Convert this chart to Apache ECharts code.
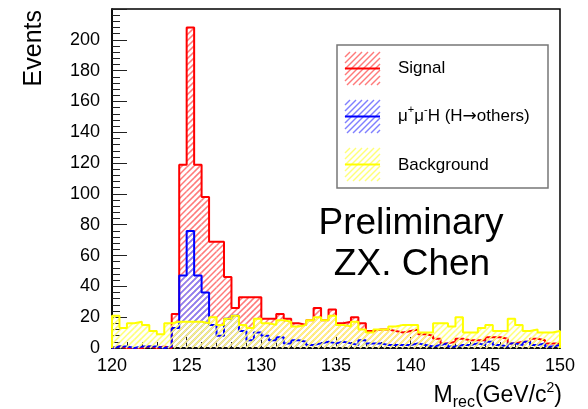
<!DOCTYPE html>
<html>
<head>
<meta charset="utf-8">
<script src="https://cdn.jsdelivr.net/npm/echarts@6/dist/echarts.min.js"></script>
<style>
  html, body { margin: 0; padding: 0; background: #fff; }
  #mrec-chart { width: 588px; height: 409px; }
</style>
</head>
<body>
<div id="mrec-chart"></div>
<script>
// histogram range: 60 bins of 0.5 GeV between 120 and 150
const xMin = 120;
const xMax = 150;
const binWidth = 0.5;

const signal = [1, 0, 0, 0, 1, 0, 1, 0, 22, 119, 208, 119, 98, 69, 69, 46, 26, 33, 33, 33,
  19, 19, 22, 19, 16, 15, 18, 26, 18, 25, 16, 17, 20, 16, 11, 12, 12, 11, 10, 11,
  12, 9, 8, 6, 3, 4, 6, 5, 5, 5, 7, 7, 6, 3, 4, 4, 6, 5, 3, 3];

const mumuH = [1, 1, 0, 1, 1, 1, 0, 1, 13, 47, 76, 47, 36, 15, 8, 19, 21, 11, 5, 10,
  8, 5, 7, 3, 5, 4, 2, 3, 4, 3, 4, 3, 2, 5, 3, 3, 2, 2, 2, 2,
  3, 2, 1, 2, 3, 1, 2, 2, 3, 2, 4, 2, 1, 3, 2, 4, 2, 3, 1, 2];

const background = [21, 13, 16, 17, 15, 11, 9, 16, 17, 17, 17, 17, 16, 20, 15, 19, 21, 15, 13, 19,
  16, 15, 18, 17, 14, 15, 18, 20, 18, 21, 15, 14, 17, 12, 10, 12, 12, 14, 15, 15,
  15, 10, 10, 16, 16, 14, 20, 10, 10, 13, 15, 11, 11, 19, 15, 11, 12, 10, 10, 11];

const seriesNames = ['Signal', 'μ+μ-H (H→others)', 'Background'];
const yTicks = [0, 220, 20];
const xTicks = [xMin, xMax, 5];

const FONT = '"Liberation Sans", Arial, Helvetica, sans-serif';
const HATCH_STEP = 6;

// "/" hatch lines (ROOT fill style 3004) clipped to a pixel rectangle,
// aligned on the page so neighbouring bins join up
function hatchLines(x0, y0, w, h, color, z) {
  const out = [];
  const cStart = Math.ceil((x0 + y0) / HATCH_STEP) * HATCH_STEP;
  for (let c = cStart; c <= x0 + w + y0 + h; c += HATCH_STEP) {
    const xa = Math.max(x0, c - (y0 + h));
    const xb = Math.min(x0 + w, c - y0);
    if (xb > xa) {
      const seg = {
        type: 'line',
        shape: { x1: xa, y1: c - xa, x2: xb, y2: c - xb },
        style: { stroke: color, lineWidth: 1.5 }
      };
      if (z !== undefined) seg.z = z;
      out.push(seg);
    }
  }
  return out;
}

// step outline: left edge of each bin, closed down to zero at both ends
function toSteps(values) {
  const pts = [[xMin, 0]];
  values.forEach((v, i) => pts.push([xMin + i * binWidth, v]));
  pts.push([xMax, values[values.length - 1]]);
  pts.push([xMax, 0]);
  return pts;
}

const colors = ['#ff0000', '#0000ff', '#ffff00'];
const hatchColors = ['#ff7a7a', '#8080ff', '#ffff78'];
const hists = [signal, mumuH, background];

let chart = echarts.init(document.getElementById('mrec-chart'));

let series = [];
hists.forEach((h, i) => {
  // hatched fill, one rectangle per bin
  series.push({
    name: seriesNames[i],
    type: 'custom',
    silent: true,
    z: 2 + i,
    data: h.map((v, k) => [xMin + k * binWidth, v]),
    encode: { x: 0, y: 1 },
    renderItem: function (params, api) {
      const x = api.value(0);
      const v = api.value(1);
      if (!v) return;
      const p0 = api.coord([x, v]);
      const p1 = api.coord([x + binWidth, 0]);
      return {
        type: 'group',
        children: hatchLines(p0[0], p0[1], p1[0] - p0[0], p1[1] - p0[1], hatchColors[i])
      };
    }
  });
  // outline
  series.push({
    name: seriesNames[i],
    type: 'line',
    step: 'end',
    symbol: 'none',
    silent: true,
    z: 2 + i,
    data: toSteps(h),
    lineStyle: { color: colors[i], width: 2 }
  });
});

// legend box drawn by hand so the swatches keep the hatch
let legendItems = [];
legendItems.push({
  type: 'rect',
  shape: { x: 337, y: 45, width: 211, height: 143 },
  style: { fill: '#fff', stroke: '#777', lineWidth: 1.5 },
  z: 10
});
const rowTop = [52, 100, 148];
rowTop.forEach((ty, i) => {
  hatchLines(345, ty, 35, 33, hatchColors[i], 11).forEach(seg => legendItems.push(seg));
  legendItems.push({
    type: 'line',
    shape: { x1: 345, y1: ty + 16.5, x2: 380, y2: ty + 16.5 },
    style: { stroke: colors[i], lineWidth: 2 },
    z: 12
  });
});
legendItems.push({
  type: 'text', x: 398, y: 68.5, z: 12,
  style: { text: 'Signal', font: '17px ' + FONT, fill: '#000', verticalAlign: 'middle' }
});
legendItems.push({
  type: 'text', x: 398, y: 116.5, z: 12,
  style: {
    text: '{t|μ}{s|+}{t|μ}{s|-}{t|H (H}{a|→}{t|others)}',
    verticalAlign: 'middle',
    rich: {
      t: { fontSize: 17, fontFamily: FONT, color: '#000', lineHeight: 24, verticalAlign: 'middle' },
      a: { fontSize: 17, fontFamily: '"DejaVu Sans", sans-serif', color: '#000', lineHeight: 24, verticalAlign: 'middle' },
      s: { fontSize: 11, fontFamily: FONT, color: '#000', lineHeight: 11, verticalAlign: 'top' }
    }
  }
});
legendItems.push({
  type: 'text', x: 398, y: 165, z: 12,
  style: { text: 'Background', font: '17px ' + FONT, fill: '#000', verticalAlign: 'middle' }
});

var option = {
  backgroundColor: '#fff',
  animation: false,
  grid: {
    left: 112,
    right: 28,
    top: 9,
    bottom: 61,
    show: true,
    borderColor: '#000',
    borderWidth: 1.5
  },
  xAxis: {
    type: 'value',
    min: xTicks[0],
    max: xTicks[1],
    interval: xTicks[2],
    axisLine: { lineStyle: { color: '#000', width: 1.5 } },
    axisTick: { inside: true, length: 11, lineStyle: { color: '#222' } },
    minorTick: { show: true, splitNumber: 5, length: 6, lineStyle: { color: '#222' } },
    splitLine: { show: false },
    axisLabel: { fontSize: 18, fontFamily: FONT, color: '#000', margin: 9 }
  },
  yAxis: {
    type: 'value',
    min: yTicks[0],
    max: yTicks[1],
    interval: yTicks[2],
    axisLine: { show: true, lineStyle: { color: '#000', width: 1.5 } },
    axisTick: { show: true, inside: true, length: 15, lineStyle: { color: '#222' } },
    minorTick: { show: true, splitNumber: 5, length: 8, lineStyle: { color: '#222' } },
    splitLine: { show: false },
    axisLabel: { fontSize: 18, fontFamily: FONT, color: '#000', margin: 12, showMaxLabel: false }
  },
  graphic: [
    {
      type: 'text', x: 34, y: 10, rotation: Math.PI / 2,
      style: { text: 'Events', font: '25px ' + FONT, fill: '#000', align: 'right', verticalAlign: 'middle' }
    },
    {
      type: 'text', x: 562, y: 396,
      style: {
        text: '{a|M}{b|rec}{a|(GeV/c}{c|2}{a|)}',
        align: 'right',
        verticalAlign: 'middle',
        rich: {
          a: { fontSize: 23, fontFamily: FONT, color: '#000', lineHeight: 30, verticalAlign: 'middle' },
          b: { fontSize: 16, fontFamily: FONT, color: '#000', lineHeight: 16, verticalAlign: 'bottom' },
          c: { fontSize: 14, fontFamily: FONT, color: '#000', lineHeight: 14, verticalAlign: 'top' }
        }
      }
    },
    {
      type: 'text', x: 411, y: 224, z: 12,
      style: { text: 'Preliminary', font: '37px ' + FONT, fill: '#000', align: 'center', verticalAlign: 'middle' }
    },
    {
      type: 'text', x: 412, y: 265, z: 12,
      style: { text: 'ZX. Chen', font: '37px ' + FONT, fill: '#000', align: 'center', verticalAlign: 'middle' }
    }
  ].concat(legendItems),
  series: series
};

chart.setOption(option);
window.onresize = function () {
  chart.resize();
};
</script>
</body>
</html>
